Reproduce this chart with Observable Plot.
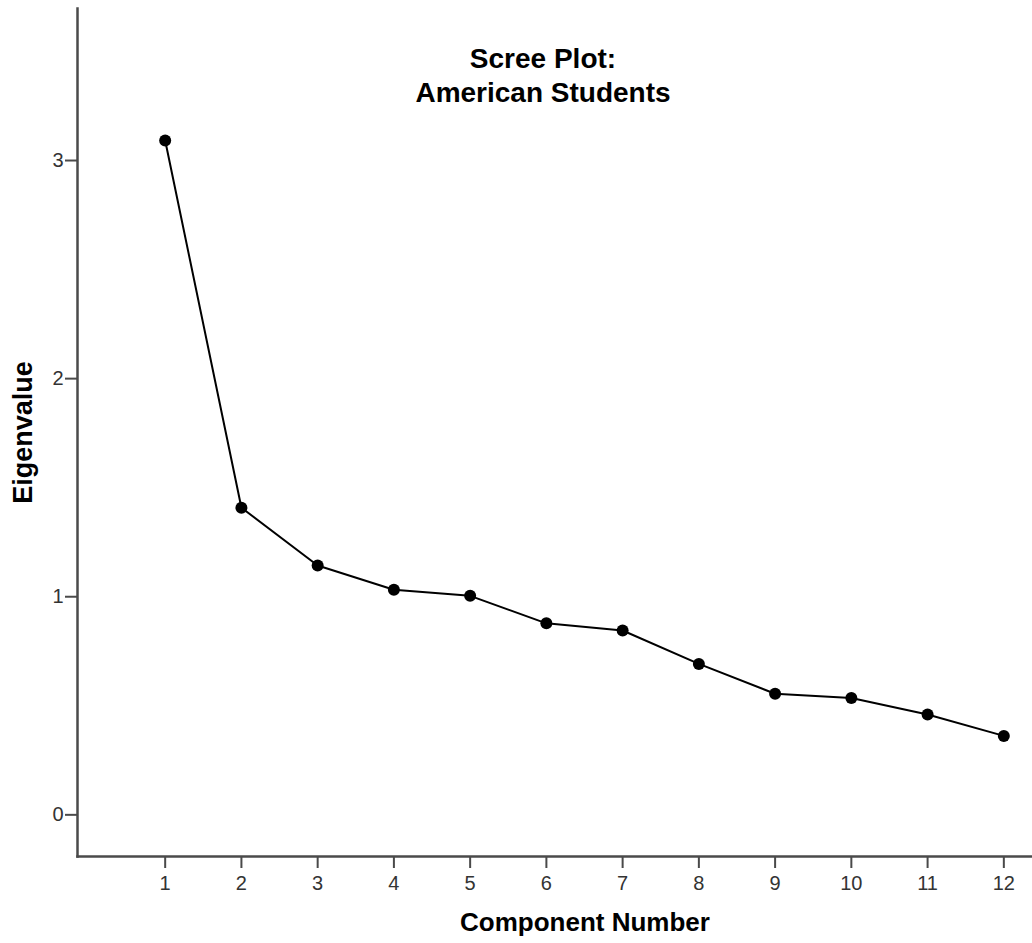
<!DOCTYPE html>
<html>
<head>
<meta charset="utf-8">
<script src="https://cdn.jsdelivr.net/npm/d3@7"></script>
<script src="https://cdn.jsdelivr.net/npm/@observablehq/plot@0.6"></script>
<style>
  html, body { margin: 0; padding: 0; background: #fff; }
  #chart svg { display: block; }
</style>
</head>
<body>
<div id="chart"></div>
<script>
const components = [1, 2, 3, 4, 5, 6, 7, 8, 9, 10, 11, 12];
const eigenvalues = [3.092, 1.408, 1.143, 1.032, 1.004, 0.878, 0.845, 0.692, 0.555, 0.536, 0.460, 0.362];
const yTicks = [0, 1, 2, 3];
const xTicks = components;
const titleText = "Scree Plot:\nAmerican Students";
const xLabel = "Component Number";
const yLabel = "Eigenvalue";

const data = components.map((c, i) => ({component: c, eigenvalue: eigenvalues[i]}));

const font = "'Liberation Sans', Arial, Helvetica, sans-serif";
const axisColor = "#4a4a4a";

const chart = Plot.plot({
  width: 1032,
  height: 943,
  marginTop: 8,
  marginBottom: 87,
  marginLeft: 77,
  marginRight: 0,
  style: {fontFamily: font, background: "#fff", color: "#222"},
  x: {domain: [-0.150, 12.376], ticks: xTicks, label: null},
  y: {domain: [-0.191, 3.697], ticks: yTicks, label: null},
  marks: [
    Plot.frame({anchor: "left", stroke: axisColor, strokeWidth: 2.5}),
    Plot.frame({anchor: "bottom", stroke: axisColor, strokeWidth: 2.5}),
    Plot.axisX({ticks: xTicks, tickFormat: "d", tickSize: 12, tickPadding: 7, fontSize: 20, stroke: axisColor, strokeWidth: 2, strokeOpacity: 1, fill: "#333", label: null}),
    Plot.axisY({ticks: yTicks, tickFormat: "d", tickSize: 12, tickPadding: 2, fontSize: 20, stroke: axisColor, strokeWidth: 2, strokeOpacity: 1, fill: "#333", label: null}),
    Plot.line(data, {x: "component", y: "eigenvalue", stroke: "#000", strokeWidth: 2}),
    Plot.dot(data, {x: "component", y: "eigenvalue", r: 6, fill: "#000", stroke: "none"}),
    Plot.text([titleText], {frameAnchor: "top", dx: -12, dy: 66, lineAnchor: "middle", lineHeight: 1.21, fontSize: 28, fontWeight: "bold", fill: "#000"}),
    Plot.text([xLabel], {frameAnchor: "bottom", dx: 30, dy: 66, lineAnchor: "middle", fontSize: 26, fontWeight: "bold", fill: "#000"}),
    Plot.text([yLabel], {frameAnchor: "left", textAnchor: "middle", dx: -54, rotate: -90, lineAnchor: "middle", fontSize: 27, fontWeight: "bold", fill: "#000"})
  ]
});

document.getElementById("chart").appendChild(chart);
</script>
</body>
</html>
